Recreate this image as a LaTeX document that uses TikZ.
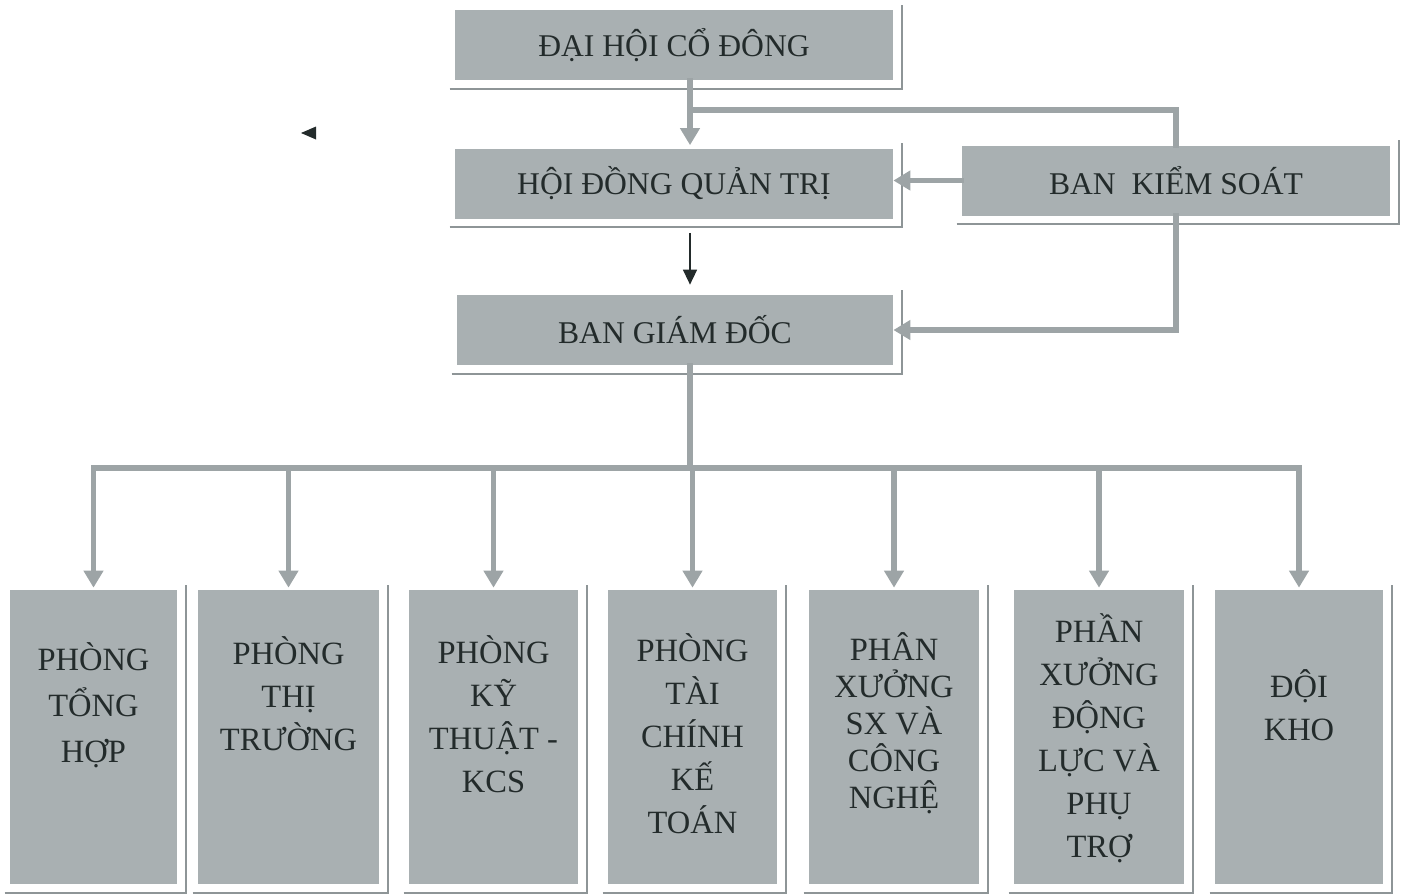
\documentclass[tikz,border=0pt]{standalone}
\usepackage{fontspec}
\setmainfont{Liberation Serif}
\usetikzlibrary{arrows.meta,positioning}

\definecolor{boxgray}{HTML}{A9B0B2}
\definecolor{linkgray}{HTML}{9DA4A6}
\definecolor{rimgray}{HTML}{8E9597}
\definecolor{ink}{HTML}{232B2B}

\tikzset{
    head/.style={fill=boxgray, text=ink, inner sep=0pt, minimum height=1.4cm,
        font=\fontsize{18}{22}\selectfont},
    unit/.style={fill=boxgray, inner sep=0pt, minimum height=5.88cm},
    utext/.style={text=ink, align=center, inner sep=0pt, anchor=base,
        font=\fontsize{18.5}{24.4}\selectfont},
    link/.style={draw=linkgray, line width=3.2pt, line cap=rect},
    linkarrow/.style={link, -{Triangle[width=0.38cm,length=0.34cm]}},
    rimline/.style={draw=rimgray, line width=1pt},
}

\newcommand{\boxrim}[1]{%
    \draw[rimline] ([shift={(-0.1,-0.17)}]#1.south west) -| ([shift={(0.17,0.1)}]#1.north east);}

\begin{document}
\begin{tikzpicture}
    \useasboundingbox (0,0) rectangle (28.32,-17.86);
    \coordinate (spine) at (13.8,0);
    \coordinate (split) at (13.8,-2.2);
    \coordinate (bus) at (13.8,-9.36);

    % top levels
    \node[head, minimum width=8.76cm] (dh) at (13.48,-0.9) {ĐẠI HỘI CỔ ĐÔNG};
    \node[head, minimum width=8.76cm] (hd) at (13.48,-3.67) {HỘI ĐỒNG QUẢN TRỊ};
    \node[head, minimum width=8.56cm] (bks) at (23.52,-3.61) {BAN\ \ KIỂM SOÁT};
    \node[head, minimum width=8.72cm] (bgd) at (13.5,-6.6) {BAN GIÁM ĐỐC};

    % departments
    \node[unit, minimum width=3.34cm] (tonghop) at (1.87,-14.74) {};
    \node[unit, minimum width=3.62cm] (thitruong) at (5.77,-14.74) {};
    \node[unit, minimum width=3.38cm] (kythuat) at (9.87,-14.74) {};
    \node[unit, minimum width=3.38cm] (taichinh) at (13.85,-14.74) {};
    \node[unit, minimum width=3.40cm] (sanxuat) at (17.88,-14.74) {};
    \node[unit, minimum width=3.40cm] (dongluc) at (21.98,-14.74) {};
    \node[unit, minimum width=3.36cm] (doikho) at (25.98,-14.74) {};

    \node[utext, font=\fontsize{18.5}{26}\selectfont] (tonghopt) at (1.87,-15.24) {PHÒNG\\TỔNG\\HỢP};
    \node[utext] (thitruongt) at (5.77,-15.0) {PHÒNG\\THỊ\\TRƯỜNG};
    \node[utext] (kythuatt) at (9.87,-15.84) {PHÒNG\\KỸ\\THUẬT -\\KCS};
    \node[utext] (taichinht) at (13.85,-16.66) {PHÒNG\\TÀI\\CHÍNH\\KẾ\\TOÁN};
    \node[utext, font=\fontsize{18.5}{21}\selectfont] (sanxuatt) at (17.88,-16.16) {PHÂN\\XƯỞNG\\SX VÀ\\CÔNG\\NGHỆ};
    \node[utext] (donglluct) at (21.98,-17.14) {PHẦN\\XƯỞNG\\ĐỘNG\\LỰC VÀ\\PHỤ\\TRỢ};
    \node[utext] (doikhot) at (25.98,-14.8) {ĐỘI\\KHO};

    \boxrim{dh} \boxrim{hd} \boxrim{bks} \boxrim{bgd}
    \foreach \u in {tonghop,thitruong,kythuat,taichinh,sanxuat,dongluc,doikho}
        \boxrim{\u};

    % connectors
    \draw[linkarrow, shorten >=0.06cm] (dh.south -| spine) -- (hd.north -| spine);
    \draw[link] (split) -| (bks.north);
    \draw[linkarrow] (bks.west) -- (bks.west -| hd.east);
    \draw[linkarrow] (bks.south) |- (bgd.east);
    \draw[ink, line width=0.8pt, -{Triangle[width=0.28cm,length=0.3cm]},
        shorten <=0.28cm, shorten >=0.2cm] (hd.south -| spine) -- (bgd.north -| spine);
    \draw[link] (bgd.south -| spine) -- (bus);
    \draw[link] (tonghop.north |- bus) -- (doikho.north |- bus);
    \foreach \u in {tonghop,thitruong,kythuat,taichinh,sanxuat,dongluc,doikho}
        \draw[linkarrow, shorten >=0.04cm] (\u.north |- bus) -- (\u.north);

    \fill[ink] (6.02,-2.66) -- (6.32,-2.53) -- (6.32,-2.79) -- cycle;
\end{tikzpicture}
\end{document}
